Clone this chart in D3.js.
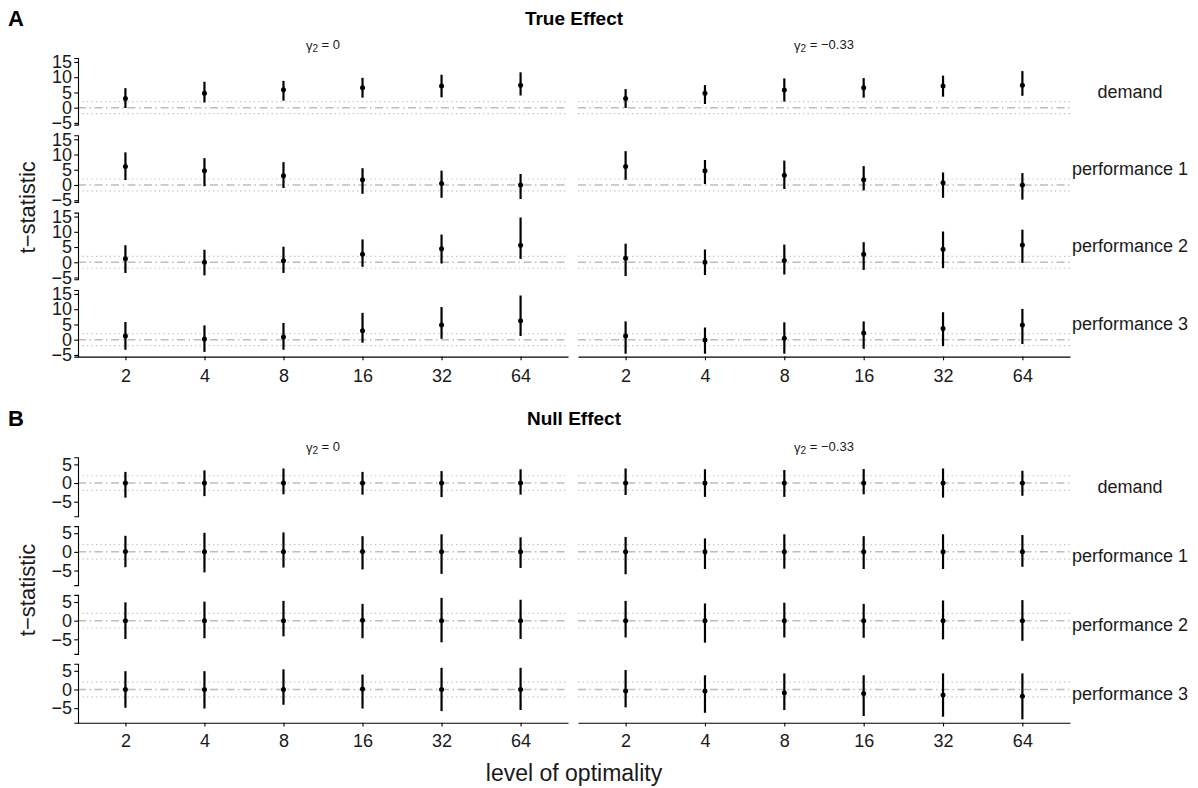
<!DOCTYPE html>
<html><head><meta charset="utf-8">
<script src="https://cdn.jsdelivr.net/npm/d3@7"></script>
<style>body{margin:0;background:#fff}svg{display:block}text{font-family:"Liberation Sans",Arial,sans-serif}</style>
</head><body><svg id="c" width="1198" height="788"></svg>
<script>
const categories = ["2","4","8","16","32","64"];
const gammaValues = ["0","−0.33"];
const measures = ["demand","performance 1","performance 2","performance 3"];
const ticksTrue = [-5,0,5,10,15];
const ticksNull = [-5,0,5];

// True effect, gamma2 = 0
const trueG0Est = [[3.0,4.7,5.9,6.5,7.1,7.4],[6.1,4.7,3.0,1.7,0.5,0.0],[1.2,0.0,0.5,2.6,4.4,5.6],[1.2,0.2,0.9,2.9,4.8,6.2]];
const trueG0Lo  = [[-0.1,1.7,2.3,3.3,3.4,4.0],[1.6,-0.4,-1.0,-2.9,-4.2,-4.6],[-3.5,-4.3,-3.5,-1.5,-0.4,1.1],[-3.3,-4.0,-3.3,-1.0,0.3,1.2]];
const trueG0Hi  = [[6.4,8.5,8.8,9.8,10.8,11.6],[10.7,8.8,7.5,5.5,4.7,3.6],[5.6,4.1,5.1,7.5,9.1,14.7],[5.8,4.7,5.5,8.8,10.7,14.5]];
// True effect, gamma2 = -0.33
const trueG1Est = [[3.0,4.7,5.8,6.5,7.1,7.4],[6.1,4.7,3.2,1.7,0.7,0.0],[1.3,0.0,0.6,2.6,4.3,5.7],[1.2,-0.1,0.5,2.2,3.7,4.8]];
const trueG1Lo  = [[-0.1,1.2,2.0,3.3,3.6,3.9],[1.7,0.3,-1.3,-1.8,-4.2,-4.8],[-4.5,-4.2,-4.0,-2.5,-1.9,-0.2],[-4.6,-4.6,-4.6,-3.0,-2.1,-1.4]];
const trueG1Hi  = [[6.1,7.4,9.6,9.7,10.5,12.0],[11.1,8.2,8.0,6.2,4.1,3.9],[6.1,4.2,5.8,6.6,10.1,10.7],[6.0,4.0,5.7,6.0,9.0,10.1]];
// Null effect, gamma2 = 0
const nullG0Est = [[0,0,0,0,0,0],[0.1,0,0,0.1,0,0],[0,0,0,0.1,0,0],[0,0,0,0.1,0,0]];
const nullG0Lo  = [[-3.9,-3.5,-3.0,-3.1,-3.75,-3.1],[-4.1,-5.5,-4.2,-4.7,-5.9,-4.3],[-4.9,-4.7,-4.2,-4.7,-5.8,-4.9],[-4.9,-5.1,-4.1,-5.1,-5.8,-5.5]];
const nullG0Hi  = [[3.0,3.4,3.9,3.0,3.2,3.7],[4.3,5.1,5.2,4.2,4.7,3.9],[4.9,5.1,5.3,4.5,6.1,5.6],[4.9,4.9,5.4,4.0,5.8,5.8]];
// Null effect, gamma2 = -0.33
const nullG1Est = [[0,0,0,0,0,0],[0,0,0,0,0,0],[0,0,0,0,0,0],[-0.4,-0.4,-0.9,-1.1,-1.5,-1.8]];
const nullG1Lo  = [[-3.2,-3.7,-3.7,-3.0,-3.9,-3.4],[-6.0,-4.6,-4.5,-4.6,-4.6,-4.0],[-4.5,-5.9,-4.5,-4.6,-5.0,-5.4],[-4.8,-6.25,-5.5,-7.1,-7.3,-8.0]];
const nullG1Hi  = [[3.9,3.7,3.5,3.75,3.9,3.3],[4.0,3.6,4.7,4.2,4.7,4.5],[5.3,4.6,4.8,4.5,5.4,5.5],[5.2,3.8,4.3,3.8,4.3,4.3]];
const refLine = 0, critLo = -1.96, critHi = 1.96;

const svg = d3.select("#c");
const colX = [[78,568],[578,1070]];
const xScales = colX.map(r => d3.scalePoint().domain(categories).range(r).padding(0.6));
const ink = "#1a1a1a";

function section(cfg){
  const {letter, title, titleY, stripY, tops, height, domain, ticks, data, xLabOff} = cfg;
  svg.append("text").attr("x",8).attr("y",titleY).attr("dy","0.35em").attr("font-size",22).attr("font-weight","bold").text(letter);
  svg.append("text").attr("x",(colX[0][0]+colX[1][1])/2).attr("y",titleY).attr("dy","0.35em").attr("text-anchor","middle").attr("font-size",19).attr("font-weight","bold").text(title);
  gammaValues.forEach((g,ci)=>{
    const t = svg.append("text").attr("x",(colX[ci][0]+colX[ci][1])/2).attr("y",stripY).attr("dy","0.35em").attr("text-anchor","middle").attr("font-size",13).attr("fill",ink);
    t.append("tspan").text("γ");
    t.append("tspan").attr("font-size",10).attr("dy","0.25em").text("2");
    t.append("tspan").attr("dy","-0.25em").text(" = " + g);
  });
  measures.forEach((m,ri)=>{
    const top = tops[ri];
    const y = d3.scaleLinear().domain(domain).range([top+height, top]);
    gammaValues.forEach((g,ci)=>{
      const x = xScales[ci];
      const [x0,x1] = colX[ci];
      const gp = svg.append("g");
      [critLo, critHi].forEach(v=>{
        gp.append("line").attr("x1",x0).attr("x2",x1).attr("y1",y(v)).attr("y2",y(v))
          .attr("stroke","#c2c2c2").attr("stroke-width",1.2).attr("stroke-dasharray","1.3,3.2");
      });
      gp.append("line").attr("x1",x0).attr("x2",x1).attr("y1",y(refLine)).attr("y2",y(refLine))
        .attr("stroke","#bdbdbd").attr("stroke-width",1.5).attr("stroke-dasharray","8,3.5,1.5,3.5");
      const d = data[ci];
      categories.forEach((c,i)=>{
        gp.append("line").attr("x1",x(c)).attr("x2",x(c)).attr("y1",y(d.lo[ri][i])).attr("y2",y(d.hi[ri][i]))
          .attr("stroke","#000").attr("stroke-width",2.2);
        gp.append("circle").attr("cx",x(c)).attr("cy",y(d.est[ri][i])).attr("r",2.5).attr("fill","#000");
      });
      if(ci===0){
        const ax = svg.append("g").attr("transform",`translate(${x0},0)`)
          .call(d3.axisLeft(y).tickValues(ticks).tickSize(3.7).tickFormat(v=>v<0?"−"+Math.abs(v):String(v)));
        ax.select(".domain").attr("stroke-width",1.1);
        ax.selectAll(".tick line").attr("stroke-width",1.1);
        ax.selectAll(".tick text").attr("font-size",18).attr("fill",ink).attr("font-family","Liberation Sans, Arial, sans-serif").attr("x",-6);
      }
      if(ci===1){
        svg.append("text").attr("x",1130).attr("y",top+height/2).attr("dy","0.35em").attr("text-anchor","middle").attr("font-size",18).attr("fill",ink).text(m);
      }
      if(ri===measures.length-1){
        const ax = svg.append("g").attr("transform",`translate(0,${top+height})`)
          .call(d3.axisBottom(x).tickSize(3.7).tickSizeOuter(0));
        ax.select(".domain").attr("stroke-width",1.1);
        ax.selectAll(".tick line").attr("stroke-width",1.1);
        ax.selectAll(".tick text").attr("font-size",18).attr("fill",ink).attr("font-family","Liberation Sans, Arial, sans-serif").attr("y",xLabOff).attr("dy","0.35em");
      }
    });
  });
  const yMid = (tops[0] + tops[tops.length-1] + height)/2;
  svg.append("text").attr("transform",`translate(27,${yMid}) rotate(-90)`).attr("text-anchor","middle").attr("dy","0.35em").attr("font-size",22).attr("fill",ink).text("t−statistic");
}

section({letter:"A", title:"True Effect", titleY:18, stripY:45, tops:[58,135.3,212.6,290], height:66.6, domain:[-5.55,16.3], ticks:ticksTrue, xLabOff:19,
  data:[{est:trueG0Est,lo:trueG0Lo,hi:trueG0Hi},{est:trueG1Est,lo:trueG1Lo,hi:trueG1Hi}]});
section({letter:"B", title:"Null Effect", titleY:418, stripY:447, tops:[457.3,526.1,594.9,663.7], height:59, domain:[-8.9,6.9], ticks:ticksNull, xLabOff:18.5,
  data:[{est:nullG0Est,lo:nullG0Lo,hi:nullG0Hi},{est:nullG1Est,lo:nullG1Lo,hi:nullG1Hi}]});

svg.append("text").attr("x",(colX[0][0]+colX[1][1])/2).attr("y",773).attr("dy","0.35em").attr("text-anchor","middle").attr("font-size",23).attr("fill",ink).text("level of optimality");
</script></body></html>
